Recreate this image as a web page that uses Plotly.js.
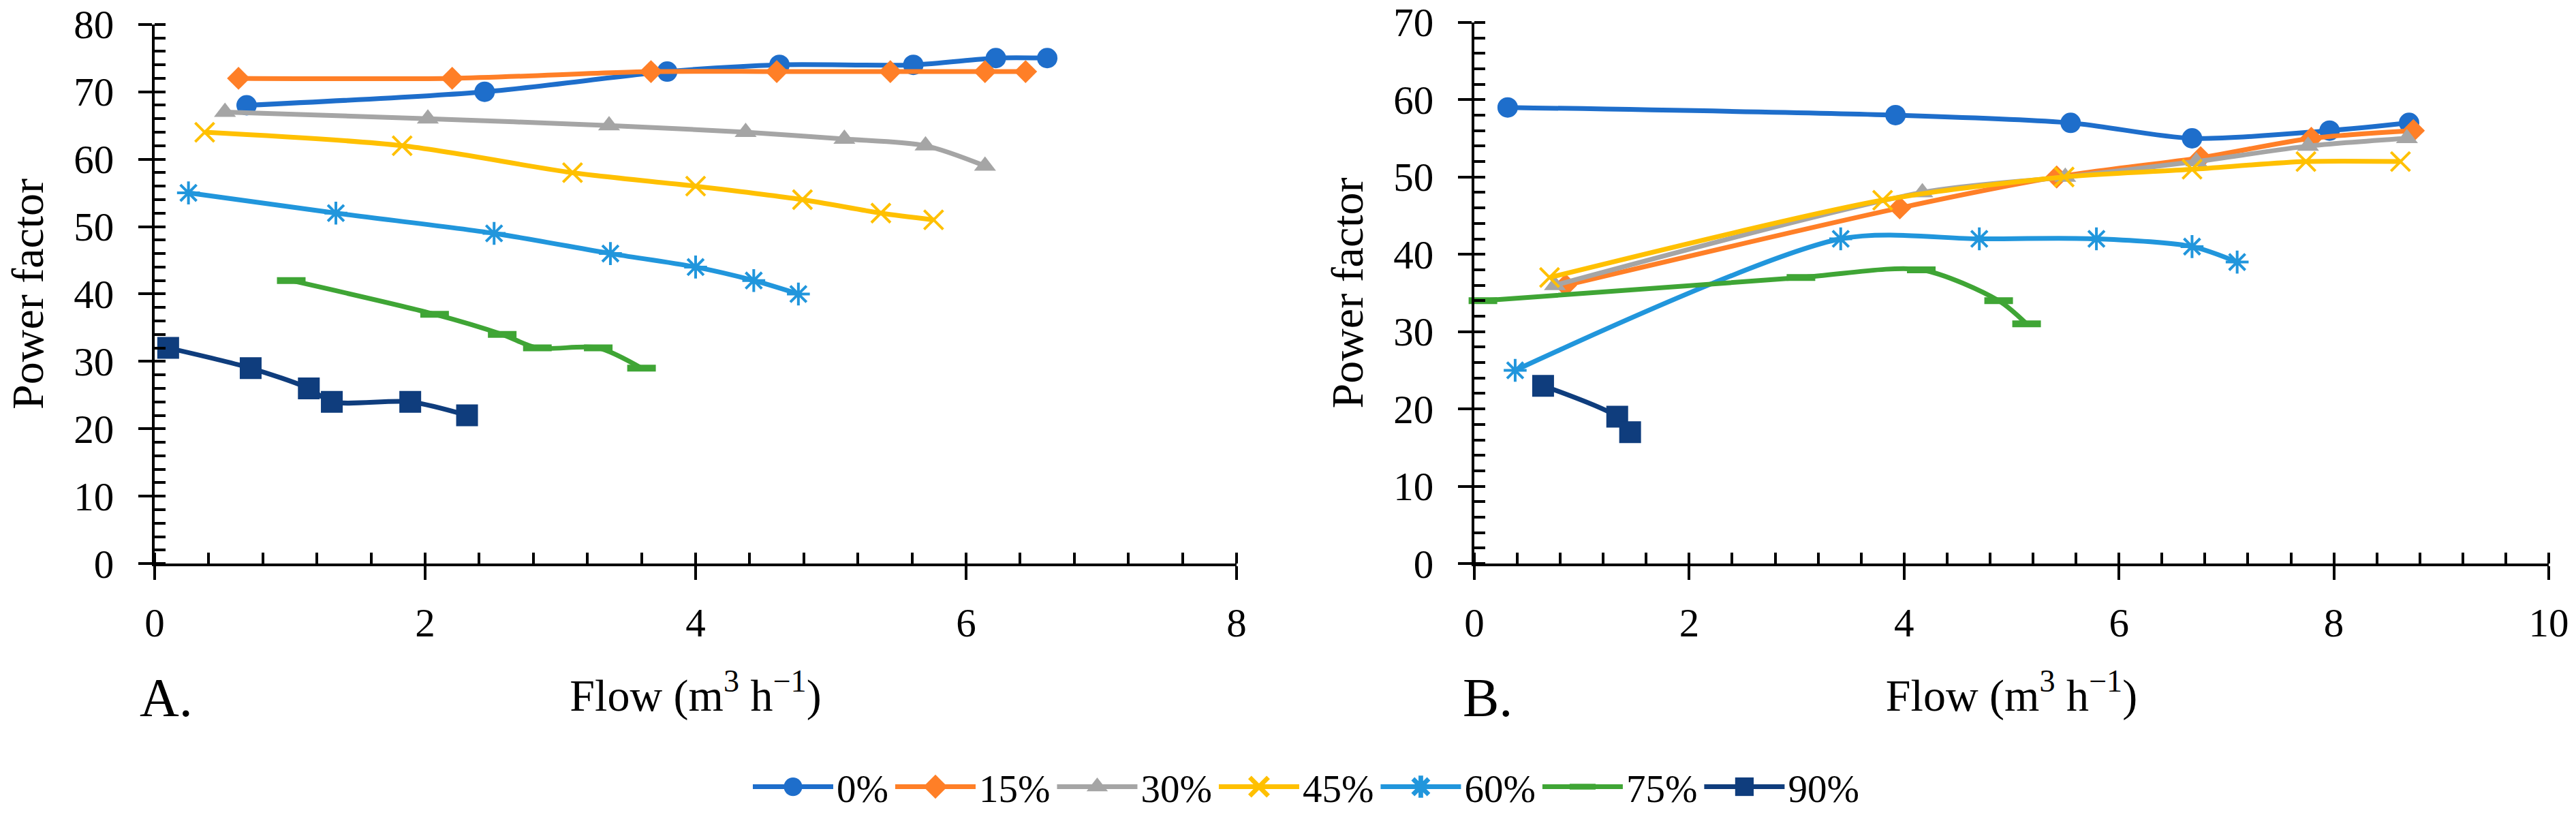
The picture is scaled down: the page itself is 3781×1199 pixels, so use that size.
<!DOCTYPE html>
<html>
<head>
<meta charset="utf-8">
<script src="https://cdn.plot.ly/plotly-3.0.1.min.js"></script>
<style>
  html, body { margin: 0; padding: 0; background: #fff; }
  #chart { width: 3781px; height: 1199px; }
</style>
</head>
<body>
<div id="chart"></div>
<script>
"use strict";

/* ── Data ───────────────────────────────────────────────────────────── */
const SERIES = ["0%", "15%", "30%", "45%", "60%", "75%", "90%"];

// Panel A
const flowA0 = [0.68, 2.44, 3.79, 4.62, 5.61, 6.22, 6.60];
const pfA0 = [68, 70, 73, 74, 74, 75, 75];
const flowA15 = [0.62, 2.20, 3.67, 4.60, 5.44, 6.14, 6.44];
const pfA15 = [72, 72, 73, 73, 73, 73, 73];
const flowA30 = [0.52, 2.02, 3.36, 4.37, 5.10, 5.70, 6.14];
const pfA30 = [67, 66, 65, 64, 63, 62, 59];
const flowA45 = [0.37, 1.83, 3.09, 4.00, 4.79, 5.37, 5.76];
const pfA45 = [64, 62, 58, 56, 54, 52, 51];
const flowA60 = [0.25, 1.34, 2.51, 3.37, 4.00, 4.43, 4.76];
const pfA60 = [55, 52, 49, 46, 44, 42, 40];
const flowA75 = [1.01, 2.07, 2.57, 2.83, 3.28, 3.60];
const pfA75 = [42, 37, 34, 32, 32, 29];
const flowA90 = [0.10, 0.71, 1.14, 1.31, 1.89, 2.31];
const pfA90 = [32, 29, 26, 24, 24, 22];

// Panel B
const flowB0 = [0.31, 3.92, 5.55, 6.68, 7.96, 8.70];
const pfB0 = [59, 58, 57, 55, 56, 57];
const flowB15 = [0.85, 3.96, 5.42, 6.76, 7.79, 8.74];
const pfB15 = [36, 46, 50, 52.5, 55, 56];
const flowB30 = [0.75, 4.17, 5.50, 6.72, 7.76, 8.68];
const pfB30 = [36, 48, 50, 52, 54, 55];
const flowB45 = [0.70, 3.80, 5.49, 6.68, 7.74, 8.62];
const pfB45 = [37, 47, 50, 51, 52, 52];
const flowB60 = [0.38, 3.41, 4.70, 5.79, 6.68, 7.10];
const pfB60 = [25, 42, 42, 42, 41, 39];
const flowB75 = [0.08, 3.04, 4.16, 4.88, 5.14];
const pfB75 = [34, 37, 38, 34, 31];
const flowB90 = [0.64, 1.33, 1.45];
const pfB90 = [23, 19, 17];

const X_TICKS_A = [0, 2, 4, 6, 8];
const X_TICKS_B = [0, 2, 4, 6, 8, 10];

/* ── Styling ─────────────────────────────────────────────────────────── */
const FONT = "'Liberation Serif', 'Times New Roman', serif";
const COLORS = ["#1e6ecb", "#ff7f27", "#a5a5a5", "#ffc000", "#2196dc", "#3fa535", "#0f3d7d"];
const MARKERS = [
  { symbol: "circle", size: 30 },
  { symbol: "diamond", size: 26 },
  { symbol: "triangle-up", size: 28 },
  { symbol: "x-thin-open", size: 28, line: { width: 4 } },
  { symbol: "asterisk-open", size: 28, line: { width: 4 } },
  { symbol: "line-ew-open", size: 30, line: { width: 10 } },
  { symbol: "square", size: 32 },
];

const panelA = [
  [flowA0, pfA0], [flowA15, pfA15], [flowA30, pfA30], [flowA45, pfA45],
  [flowA60, pfA60], [flowA75, pfA75], [flowA90, pfA90],
];
const panelB = [
  [flowB0, pfB0], [flowB15, pfB15], [flowB30, pfB30], [flowB45, pfB45],
  [flowB60, pfB60], [flowB75, pfB75], [flowB90, pfB90],
];

function makeTraces(panel, xa, ya, legend) {
  return panel.map(([x, y], i) => {
    const m = MARKERS[i];
    return {
      type: "scatter",
      mode: "lines+markers",
      name: SERIES[i],
      legendgroup: SERIES[i],
      showlegend: legend,
      x: x,
      y: y,
      xaxis: xa,
      yaxis: ya,
      cliponaxis: false,
      line: { color: COLORS[i], width: 7, shape: "spline", smoothing: 0.8 },
      marker: {
        symbol: m.symbol,
        size: m.size,
        color: COLORS[i],
        line: { color: COLORS[i], width: m.line ? m.line.width : 0 },
      },
    };
  });
}

const traces = [
  ...makeTraces(panelA, "x", "y", true),
  ...makeTraces(panelB, "x2", "y2", false),
];

/* ── Axes ────────────────────────────────────────────────────────────── */
const W = 3781, H = 1199;
const px = (v) => v / W;
const py = (v) => 1 - v / H;

const TICK_FONT = { family: FONT, size: 59, color: "#000" };
const TITLE_FONT = { family: FONT, size: 66, color: "#000" };
const FLOW_TITLE = "Flow (m<sup>3</sup> h<sup>−1</sup>)";

function xAxis(domain, range, ticks, anchor) {
  return {
    domain: domain,
    range: range,
    anchor: anchor,
    tickvals: ticks,
    ticks: "outside",
    ticklen: 20,
    tickwidth: 4,
    tickcolor: "#000",
    ticklabelstandoff: 12,
    minor: { dtick: 0.4, ticks: "inside", ticklen: 16, tickwidth: 4, tickcolor: "#000", showgrid: false },
    showline: true,
    linewidth: 4,
    linecolor: "#000",
    showgrid: false,
    zeroline: false,
    tickfont: TICK_FONT,
    title: { text: FLOW_TITLE, font: TITLE_FONT, standoff: 52 },
  };
}

function yAxis(domain, range, anchor) {
  return {
    domain: domain,
    range: range,
    anchor: anchor,
    dtick: 10,
    ticks: "outside",
    ticklen: 20,
    tickwidth: 4,
    tickcolor: "#000",
    ticklabelstandoff: 24,
    minor: { dtick: 2, ticks: "inside", ticklen: 16, tickwidth: 4, tickcolor: "#000", showgrid: false },
    showline: true,
    linewidth: 4,
    linecolor: "#000",
    showgrid: false,
    zeroline: false,
    tickfont: TICK_FONT,
    title: { text: "Power factor", font: TITLE_FONT, standoff: 24 },
  };
}

// Overlay axes only draw the inner half of the major ticks (cross ticks)
function crossX(over, range, ticks, anchor) {
  return {
    overlaying: over, anchor: anchor, range: range, tickvals: ticks,
    ticks: "inside", ticklen: 20, tickwidth: 4, tickcolor: "#000",
    showticklabels: false, showline: false, showgrid: false, zeroline: false,
  };
}
function crossY(over, range, anchor) {
  return {
    overlaying: over, anchor: anchor, range: range, dtick: 10,
    ticks: "inside", ticklen: 20, tickwidth: 4, tickcolor: "#000",
    showticklabels: false, showline: false, showgrid: false, zeroline: false,
  };
}

const domXA = [px(227), px(1815)];
const domXB = [px(2164), px(3741)];
const domYA = [py(832), py(36)];
const domYB = [py(832), py(33)];

const layout = {
  width: W,
  height: H,
  margin: { t: 0, r: 0, b: 0, l: 0 },
  paper_bgcolor: "#fff",
  plot_bgcolor: "rgba(0,0,0,0)",
  font: { family: FONT, size: 57, color: "#000" },
  showlegend: true,
  xaxis: xAxis(domXA, [0, 8], X_TICKS_A, "y"),
  yaxis: yAxis(domYA, [0, 80], "x"),
  xaxis2: xAxis(domXB, [0, 10], X_TICKS_B, "y2"),
  yaxis2: yAxis(domYB, [0, 70], "x2"),
  xaxis3: crossX("x", [0, 8], X_TICKS_A, "y"),
  yaxis3: crossY("y", [0, 80], "x"),
  xaxis4: crossX("x2", [0, 10], X_TICKS_B, "y2"),
  yaxis4: crossY("y2", [0, 70], "x2"),
  legend: {
    orientation: "h",
    x: px(1100),
    xanchor: "left",
    y: py(1162),
    yanchor: "middle",
    font: { family: FONT, size: 57, color: "#000" },
    itemwidth: 118,
    tracegroupgap: 0,
    bgcolor: "rgba(0,0,0,0)",
  },
  annotations: [
    { text: "A.", x: px(203), y: py(1030), xref: "paper", yref: "paper",
      xanchor: "left", yanchor: "middle", showarrow: false,
      font: { family: FONT, size: 80, color: "#000" } },
    { text: "B.", x: px(2145), y: py(1030), xref: "paper", yref: "paper",
      xanchor: "left", yanchor: "middle", showarrow: false,
      font: { family: FONT, size: 80, color: "#000" } },
  ],
};

Plotly.newPlot("chart", traces, layout, { displayModeBar: false, staticPlot: true }).then((gd) => {
  // Legend markers are capped at 16px by Plotly; scale them up to match the plot markers
  gd.querySelectorAll(".legend .legendpoints path.scatterpts").forEach((p) => {
    const t = p.getAttribute("transform") || "";
    p.setAttribute("transform", t + " scale(1.7)");
  });
});
</script>
</body>
</html>
